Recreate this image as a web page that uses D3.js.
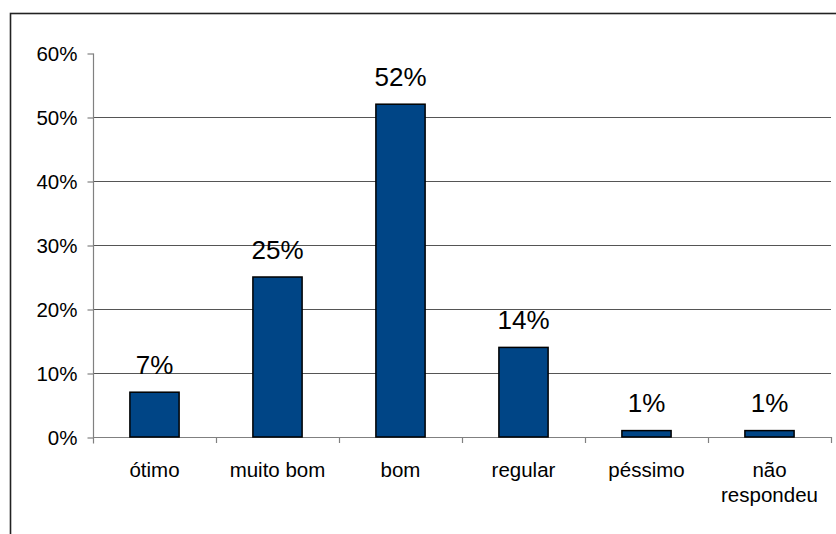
<!DOCTYPE html>
<html>
<head>
<meta charset="utf-8">
<script src="https://cdn.jsdelivr.net/npm/d3@7"></script>
<style>
  html, body { margin: 0; padding: 0; background: #fff; }
  svg { display: block; }
  text { font-family: "Liberation Sans", Arial, sans-serif; fill: #000; }
</style>
</head>
<body>
<svg id="chart" width="836" height="534"></svg>
<script>
// Survey answers and their shares (%)
const categories = ["ótimo", "muito bom", "bom", "regular", "péssimo", "não respondeu"];
const categoryLines = [["ótimo"], ["muito bom"], ["bom"], ["regular"], ["péssimo"], ["não", "respondeu"]];
const shares = [7, 25, 52, 14, 1, 1];
const yTicks = [0, 10, 20, 30, 40, 50, 60];

const svg = d3.select("#chart");
const W = 836, H = 534;
const plot = { left: 93, right: 831, top: 53, bottom: 437 };

svg.append("rect").attr("width", W).attr("height", H).attr("fill", "#fff");

// Outer frame (only top and left edges fall within the view)
svg.append("rect")
  .attr("x", 10.5).attr("y", 13.5)
  .attr("width", W + 20).attr("height", H + 20)
  .attr("fill", "none").attr("stroke", "#222").attr("stroke-width", 1.6);

const x = d3.scaleBand()
  .domain(categories)
  .range([plot.left, plot.right])
  .paddingInner(0.6)
  .paddingOuter(0.3);

const y = d3.scaleLinear().domain([0, 60]).range([plot.bottom, plot.top]);

// Horizontal gridlines
svg.append("g").selectAll("line")
  .data(yTicks.filter(t => t > 0 && t < 60))
  .join("line")
  .attr("x1", plot.left).attr("x2", plot.right)
  .attr("y1", d => Math.round(y(d)) + 0.5).attr("y2", d => Math.round(y(d)) + 0.5)
  .attr("stroke", "#555").attr("stroke-width", 1.2);

// Y axis
const yAxis = d3.axisLeft(y).tickValues(yTicks).tickFormat(d => d + "%").tickSize(6).tickPadding(10);
const gy = svg.append("g").attr("transform", `translate(${plot.left + 0.5},0.5)`).call(yAxis);
gy.select(".domain").attr("stroke", "#808080").attr("stroke-width", 1.2).attr("d", `M0,${plot.top}V${plot.bottom + 6}`);
gy.selectAll(".tick line").attr("stroke", "#808080").attr("stroke-width", 1.2);
gy.selectAll(".tick text").style("font-size", "20.5px").style("font-family", "Liberation Sans, Arial, sans-serif").attr("fill", "#000");

// X axis line with ticks at category boundaries
const gx = svg.append("g");
gx.append("line")
  .attr("x1", plot.left).attr("x2", plot.right)
  .attr("y1", plot.bottom + 0.5).attr("y2", plot.bottom + 0.5)
  .attr("stroke", "#808080").attr("stroke-width", 1.2);
gx.selectAll("line.tk")
  .data(d3.range(1, categories.length + 1))
  .join("line").attr("class", "tk")
  .attr("x1", i => Math.round(plot.left + i * x.step()) + 0.5)
  .attr("x2", i => Math.round(plot.left + i * x.step()) + 0.5)
  .attr("y1", plot.bottom).attr("y2", plot.bottom + 6)
  .attr("stroke", "#808080").attr("stroke-width", 1.2);

// Category labels
const cx = c => x(c) + x.bandwidth() / 2;
const labels = svg.append("g").selectAll("text")
  .data(categories)
  .join("text")
  .attr("x", cx)
  .attr("y", 477)
  .attr("text-anchor", "middle")
  .style("font-size", "20.5px");
labels.each(function(c, i) {
  d3.select(this).selectAll("tspan")
    .data(categoryLines[i])
    .join("tspan")
    .attr("x", cx(c))
    .attr("dy", (d, j) => j === 0 ? 0 : 25)
    .text(d => d);
});

// Bars
svg.append("g").selectAll("rect")
  .data(categories)
  .join("rect")
  .attr("x", c => x(c))
  .attr("width", x.bandwidth())
  .attr("y", (c, i) => y(shares[i]))
  .attr("height", (c, i) => plot.bottom - y(shares[i]))
  .attr("fill", "#004586")
  .attr("stroke", "#000")
  .attr("stroke-width", 1.5);

// Value labels
svg.append("g").selectAll("text")
  .data(categories)
  .join("text")
  .attr("x", cx)
  .attr("y", (c, i) => y(shares[i]) - 18.5)
  .attr("text-anchor", "middle")
  .style("font-size", "26px")
  .text((c, i) => shares[i] + "%");
</script>
</body>
</html>
